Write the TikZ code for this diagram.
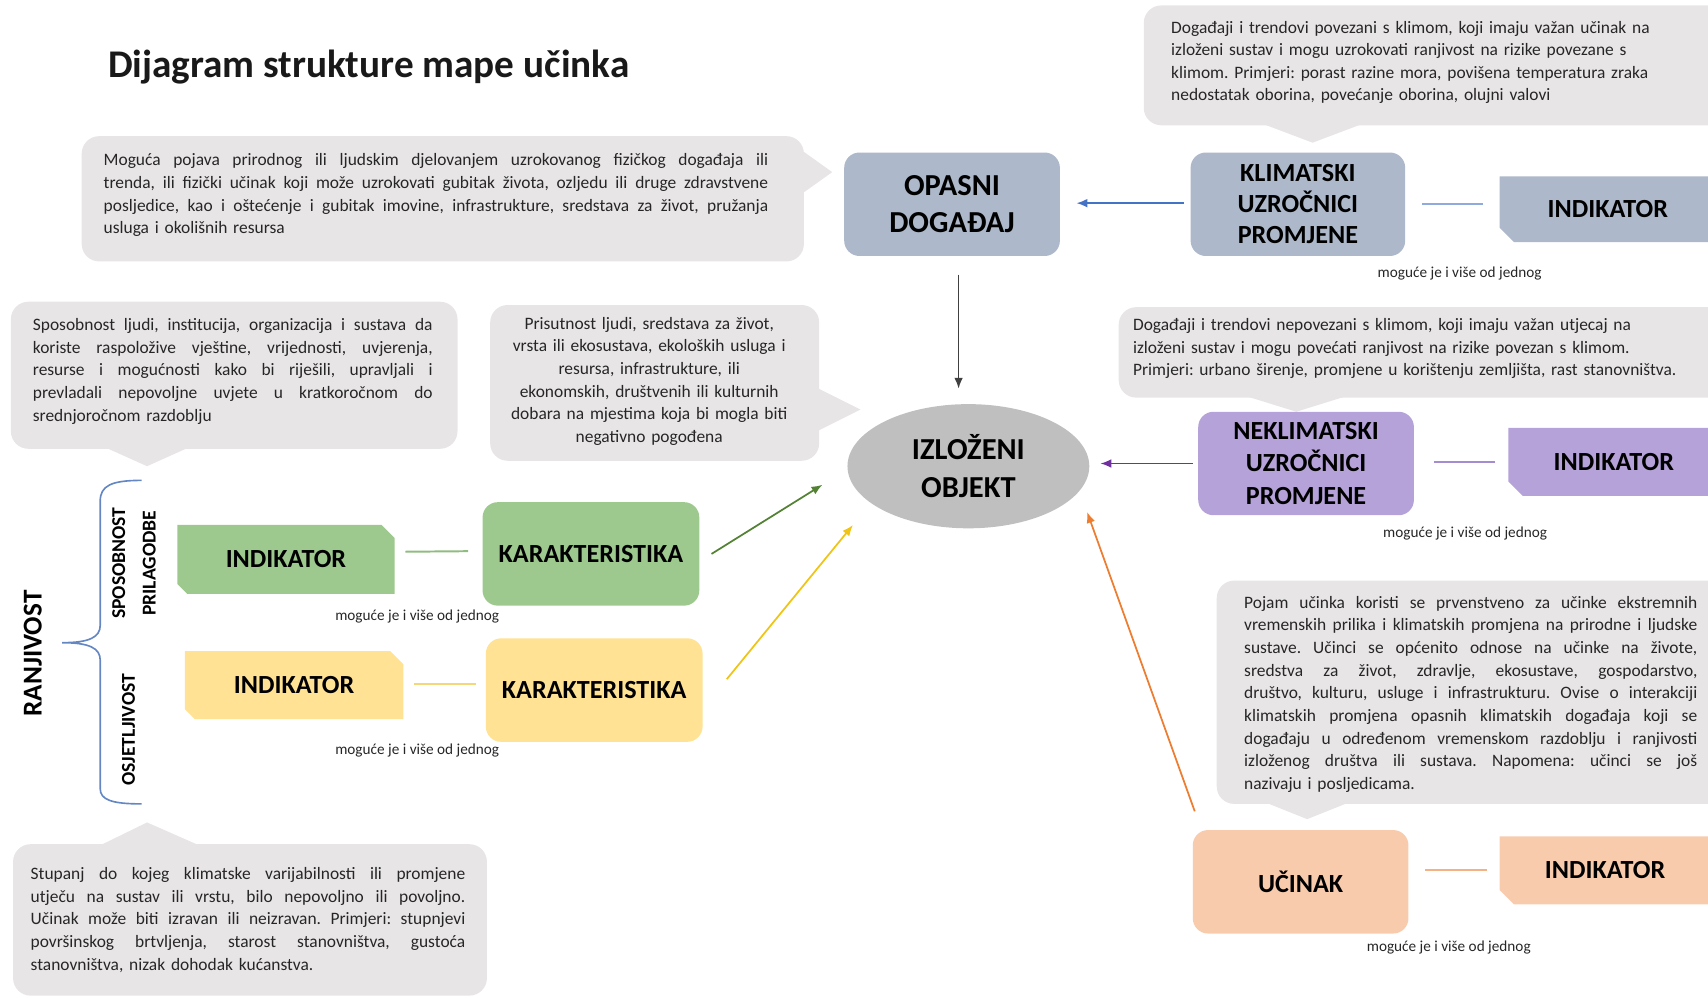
\documentclass[tikz,border=0pt]{standalone}
\usepackage{fontspec}
\setmainfont{Carlito}
\frenchspacing
\usetikzlibrary{arrows.meta,shapes.geometric,calc,backgrounds}
\definecolor{callfill}{RGB}{232,229,230}
\definecolor{bluebox}{RGB}{173,185,202}
\definecolor{purplebox}{RGB}{180,162,216}
\definecolor{greenbox}{RGB}{157,201,142}
\definecolor{yellowbox}{RGB}{255,226,148}
\definecolor{orangebox}{RGB}{248,203,173}
\definecolor{ellfill}{RGB}{191,191,191}
\definecolor{txt}{RGB}{38,38,38}
\definecolor{arrblue}{RGB}{68,114,196}
\definecolor{arrpurple}{RGB}{112,48,160}
\definecolor{arrgreen}{RGB}{84,130,53}
\definecolor{arryellow}{RGB}{240,196,20}
\definecolor{arrorange}{RGB}{237,125,49}
\definecolor{arrblack}{RGB}{64,64,64}
\definecolor{lnblue}{RGB}{143,170,220}
\definecolor{lnpurple}{RGB}{165,139,208}
\definecolor{lngreen}{RGB}{143,188,127}
\definecolor{lnyellow}{RGB}{245,215,122}
\definecolor{lnorange}{RGB}{244,177,131}
\definecolor{bracecol}{RGB}{100,135,196}
\newdimen\jw
\newcommand\jline[1]{\hbox to\jw{\spaceskip=0.23em plus 1em minus 0.05em\relax\xspaceskip=0pt\relax #1}}
\newcommand\nline[1]{\hbox{#1}}
\begin{document}
\begin{tikzpicture}[x=1pt,y=-1pt,
  calltext/.style={anchor=north west,inner sep=0pt,text=txt,align=left,
    font=\fontsize{16}{20.8}\selectfont},
  rbox/.style={rectangle,rounded corners=14pt,minimum width=198pt,minimum height=95pt,
    align=center,inner sep=0pt,font=\bfseries\fontsize{24}{28.5}\selectfont},
  indbox/.style={rectangle,minimum height=62pt,inner sep=0pt,
    font=\bfseries\fontsize{24}{28}\selectfont},
  note/.style={inner sep=0pt,text=txt,font=\fontsize{14}{16}\selectfont},
  arr/.style={line width=1.6pt,-{Latex[length=10pt,width=8pt]}},
  shortln/.style={line width=1.8pt},
  vert/.style={rotate=90,inner sep=0pt,align=center}]
\useasboundingbox (0,0) rectangle (1568,916);

% ---------- callout backgrounds ----------
\fill[callfill,rounded corners=16pt] (1050,5) rectangle (1590,115);
\fill[callfill] (1160,114) -- (1205,131) -- (1250,114) -- cycle;
\fill[callfill,rounded corners=16pt] (75,125) rectangle (738,240);
\fill[callfill] (736,138) -- (764,158) -- (736,178) -- cycle;
\fill[callfill,rounded corners=16pt] (10,277) rectangle (420,412);
\fill[callfill] (95,410) -- (135,428) -- (175,410) -- cycle;
\fill[callfill,rounded corners=16pt] (450,280) rectangle (752,423);
\fill[callfill] (750,356) -- (790,376) -- (750,396) -- cycle;
\fill[callfill,rounded corners=16pt] (1027,282) rectangle (1590,365);
\fill[callfill] (1145,364) -- (1190,378) -- (1235,364) -- cycle;
\fill[callfill,rounded corners=16pt] (1117,533) rectangle (1590,738);
\fill[callfill] (1160,736) -- (1200,752) -- (1240,736) -- cycle;
\fill[callfill,rounded corners=16pt] (12,775) rectangle (447,914);
\fill[callfill] (90,777) -- (135,755) -- (185,777) -- cycle;

% ---------- title ----------
\node[anchor=west,inner sep=0pt,font=\bfseries\fontsize{36}{40}\selectfont,text=black!90] (title) at (99,62) {Dijagram strukture mape učinka};

% ---------- callout texts ----------
\node[calltext,text width=520pt] (tclim) at (1075,19) {%
\nline{Događaji i trendovi povezani s klimom, koji imaju važan učinak na}
\nline{izloženi sustav i mogu uzrokovati ranjivost na rizike povezane s}
\nline{klimom. Primjeri: porast razine mora, povišena temperatura zraka}
\nline{nedostatak oborina, povećanje oborina, olujni valovi}};

\node[calltext,text width=610pt] (thaz) at (95,141) {\jw=610pt\relax
\jline{Moguća pojava prirodnog ili ljudskim djelovanjem uzrokovanog fizičkog događaja ili}
\jline{trenda, ili fizički učinak koji može uzrokovati gubitak života, ozljedu ili druge zdravstvene}
\jline{posljedice, kao i oštećenje i gubitak imovine, infrastrukture, sredstava za život, pružanja}
\nline{usluga i okolišnih resursa}};

\node[calltext,text width=367pt] (tadapt) at (30,292) {\jw=367pt\relax
\jline{Sposobnost ljudi, institucija, organizacija i sustava da}
\jline{koriste raspoložive vještine, vrijednosti, uvjerenja,}
\jline{resurse i mogućnosti kako bi riješili, upravljali i}
\jline{prevladali nepovoljne uvjete u kratkoročnom do}
\nline{srednjoročnom razdoblju}};

\node[anchor=north,inner sep=0pt,text=txt,align=center,text width=300pt,
  font=\fontsize{16}{20.8}\selectfont] (texpo) at (596,291) {%
Prisutnost ljudi, sredstava za život,\\
vrsta ili ekosustava, ekoloških usluga i\\
resursa, infrastrukture, ili\\
ekonomskih, društvenih ili kulturnih\\
dobara na mjestima koja bi mogla biti\\
negativno pogođena};

\node[calltext,text width=530pt] (tnon) at (1040,292) {%
\nline{Događaji i trendovi nepovezani s klimom, koji imaju važan utjecaj na}
\nline{izloženi sustav i mogu povećati ranjivost na rizike povezan s klimom.}
\nline{Primjeri: urbano širenje, promjene u korištenju zemljišta, rast stanovništva.}};

\node[calltext,text width=416pt] (timp) at (1142,547) {\jw=416pt\relax
\jline{Pojam učinka koristi se prvenstveno za učinke ekstremnih}
\jline{vremenskih prilika i klimatskih promjena na prirodne i ljudske}
\jline{sustave. Učinci se općenito odnose na učinke na živote,}
\jline{sredstva za život, zdravlje, ekosustave, gospodarstvo,}
\jline{društvo, kulturu, usluge i infrastrukturu. Ovise o interakciji}
\jline{klimatskih promjena opasnih klimatskih događaja koji se}
\jline{događaju u određenom vremenskom razdoblju i ranjivosti}
\jline{izloženog društva ili sustava. Napomena: učinci se još}
\nline{nazivaju i posljedicama.}};

\node[calltext,text width=399pt] (tsens) at (28,796) {\jw=399pt\relax
\jline{Stupanj do kojeg klimatske varijabilnosti ili promjene}
\jline{utječu na sustav ili vrstu, bilo nepovoljno ili povoljno.}
\jline{Učinak može biti izravan ili neizravan. Primjeri: stupnjevi}
\jline{površinskog brtvljenja, starost stanovništva, gustoća}
\nline{stanovništva, nizak dohodak kućanstva.}};

% ---------- main boxes ----------
\node[rbox,fill=bluebox,font=\bfseries\fontsize{28}{34}\selectfont] (opasni) at (874,187.5) {OPASNI\\DOGAĐAJ};
\node[rbox,fill=bluebox,minimum width=197pt] (klim) at (1191.5,187.5) {KLIMATSKI\\UZROČNICI\\PROMJENE};
\node[ellipse,fill=ellfill,minimum width=222pt,minimum height=114pt,inner sep=0pt,align=center,
  font=\bfseries\fontsize{28}{35}\selectfont] (izl) at (889,428) {IZLOŽENI\\OBJEKT};
\node[rbox,fill=purplebox,font=\bfseries\fontsize{24}{29.5}\selectfont] (neklim) at (1199,425.5) {NEKLIMATSKI\\UZROČNICI\\PROMJENE};
\node[rbox,fill=orangebox] (ucinak) at (1194,809.5) {UČINAK};
\node[rbox,fill=greenbox,minimum width=199pt] (gkar) at (542.5,508.5) {KARAKTERISTIKA};
\node[rbox,fill=yellowbox,minimum width=199pt] (ykar) at (545.5,633.5) {KARAKTERISTIKA};

% ---------- indicator boxes ----------
\node[indbox,minimum width=198pt,minimum height=60pt] (bind) at (1476,192) {INDIKATOR};
\node[indbox,minimum width=193pt] (pind) at (1481.5,424) {INDIKATOR};
\node[indbox,minimum width=193pt] (oind) at (1473.5,799) {INDIKATOR};
\node[indbox,minimum width=199pt,minimum height=63pt] (gind) at (262.5,513.5) {INDIKATOR};
\node[indbox,minimum width=200pt] (yind) at (270,629) {INDIKATOR};
\begin{scope}[on background layer]
\fill[bluebox] (bind.north west) -- (bind.north east) -- (bind.south east)
  -- ([xshift=13pt]bind.south west) -- ([yshift=13pt]bind.south west) -- cycle;
\fill[purplebox] (pind.north west) -- (pind.north east) -- (pind.south east)
  -- ([xshift=13pt]pind.south west) -- ([yshift=13pt]pind.south west) -- cycle;
\fill[orangebox] (oind.north west) -- (oind.north east) -- (oind.south east)
  -- ([xshift=13pt]oind.south west) -- ([yshift=13pt]oind.south west) -- cycle;
\fill[greenbox] (gind.north west) -- ([xshift=-12pt]gind.north east) -- ([yshift=-12pt]gind.north east)
  -- (gind.south east) -- ([xshift=9pt]gind.south west) -- ([yshift=9pt]gind.south west) -- cycle;
\fill[yellowbox] (yind.north west) -- ([xshift=-12pt]yind.north east) -- ([yshift=-12pt]yind.north east)
  -- (yind.south east) -- ([xshift=9pt]yind.south west) -- ([yshift=9pt]yind.south west) -- cycle;
\end{scope}

% ---------- notes ----------
\node[note] (m1) at (1340,251) {moguće je i više od jednog};
\node[note] (m2) at (1345,490) {moguće je i više od jednog};
\node[note] (m3) at (383,566) {moguće je i više od jednog};
\node[note] (m4) at (383,689) {moguće je i više od jednog};
\node[note] (m5) at (1330,870) {moguće je i više od jednog};

% ---------- vulnerability labels and brace ----------
\node[vert,font=\bfseries\fontsize{25}{30}\selectfont] (ranj) at (30,600) {RANJIVOST};
\node[vert,font=\bfseries\fontsize{18}{28}\selectfont] (spos) at (123,517) {SPOSOBNOST\\PRILAGODBE};
\node[vert,font=\bfseries\fontsize{18}{22}\selectfont] (osj) at (118,670) {OSJETLJIVOST};
\draw[bracecol,line width=1.5pt] (130,441) .. controls (102,441) and (92,446) .. (92,460)
  -- (92,574) .. controls (92,585) and (82,590) .. (57,590)
  .. controls (82,590) and (92,595) .. (92,606) -- (92,724)
  .. controls (92,734) and (102,738) .. (130,738);

% ---------- free arrow ends ----------
\coordinate (gtip) at (755,445);
\coordinate (ytip) at (783,482);
\coordinate (otip) at (998,470);

% ---------- arrows ----------
\draw[arr,arrblack] ([yshift=-17pt,xshift=6pt]opasni.south) -- ([yshift=14pt,xshift=-9pt]izl.north);
\draw[arr,arrblue] ([xshift=-6pt,yshift=1pt]klim.west) -- ([xshift=15pt,yshift=1pt]opasni.east);
\draw[arr,arrpurple] ([xshift=-5pt]neklim.west) -- ([xshift=10pt]izl.east |- neklim.west);
\draw[arr,arrgreen] ([xshift=11pt]gkar.east) -- (gtip);
\draw[arr,arryellow] ([shift={(22pt,10pt)}]ykar.east) -- (ytip);
\draw[arr,arrorange] ([shift={(2pt,17pt)}]ucinak.north west) -- (otip);

% ---------- short connector lines ----------
\draw[shortln,lnblue] ([xshift=15pt]klim.east) -- ([xshift=-15pt]bind.west |- klim.east);
\draw[shortln,lnpurple] ([xshift=18pt,yshift=1.5pt]neklim.east) -- ([xshift=-12pt]pind.west);
\draw[shortln,lngreen] ([shift={(10pt,7pt)}]gind.east) -- ([shift={(-13pt,2.5pt)}]gkar.west);
\draw[shortln,lnyellow] ([shift={(10pt,1pt)}]yind.east) -- ([shift={(-9pt,5.5pt)}]ykar.west);
\draw[shortln,lnorange] ([shift={(15pt,10.5pt)}]ucinak.east) -- ([xshift=-12pt]oind.west);
\end{tikzpicture}
\end{document}
